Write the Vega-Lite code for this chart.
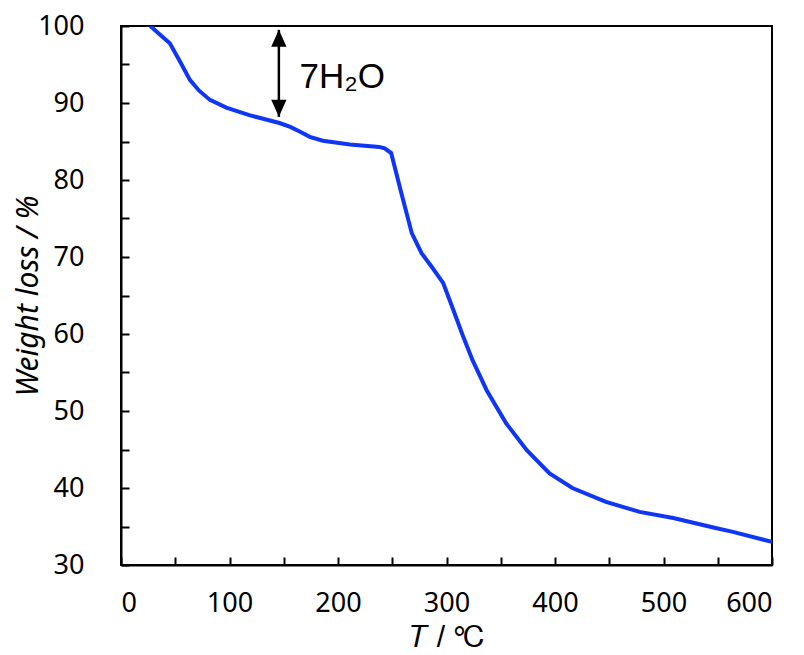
{
  "$schema": "https://vega.github.io/schema/vega-lite/v6.json",
  "width": 651,
  "height": 539,
  "autosize": {"type": "none"},
  "padding": {"left": 121, "top": 26, "right": 32, "bottom": 90},
  "background": "white",
  "config": {
    "view": {"stroke": "black", "strokeWidth": 2},
    "axis": {
      "domainColor": "black", "domainWidth": 2, "tickColor": "black", "tickWidth": 2,
      "grid": false, "labelFont": "Noto Sans", "labelFontSize": 27, "labelColor": "black",
      "titleFont": "Noto Sans", "titleFontSize": 30, "titleFontWeight": "normal", "titleColor": "black"
    }
  },
  "resolve": {"axis": {"x": "independent", "y": "independent"}},
  "datasets": {
    "tga": [
      {"T": 27, "w": 100}, {"T": 35, "w": 99.0}, {"T": 45, "w": 97.75}, {"T": 54, "w": 95.5},
      {"T": 63.5, "w": 93.0}, {"T": 72, "w": 91.6}, {"T": 82, "w": 90.4}, {"T": 97, "w": 89.4},
      {"T": 119, "w": 88.4}, {"T": 146, "w": 87.4}, {"T": 156, "w": 86.9}, {"T": 166, "w": 86.2},
      {"T": 174, "w": 85.6}, {"T": 186, "w": 85.1}, {"T": 211, "w": 84.6}, {"T": 238, "w": 84.3},
      {"T": 243, "w": 84.1}, {"T": 249, "w": 83.5}, {"T": 258, "w": 78.5}, {"T": 268, "w": 73.1},
      {"T": 277, "w": 70.5}, {"T": 287, "w": 68.6}, {"T": 297, "w": 66.6}, {"T": 304, "w": 64.0},
      {"T": 315, "w": 59.8}, {"T": 324, "w": 56.6}, {"T": 337, "w": 52.7}, {"T": 355, "w": 48.4},
      {"T": 374, "w": 44.9}, {"T": 395, "w": 41.9}, {"T": 416, "w": 40.0}, {"T": 447, "w": 38.2},
      {"T": 478, "w": 36.9}, {"T": 509, "w": 36.1}, {"T": 548, "w": 34.8}, {"T": 564, "w": 34.3},
      {"T": 600, "w": 33.0}
    ],
    "arrow": [{"T": 145.5, "top": 99.5, "bottom": 88.2}],
    "label": [{"T": 164.5, "w": 92.0, "text": "7H₂O"}]
  },
  "layer": [
    {
      "data": {"name": "tga"},
      "mark": {"type": "line", "color": "#0f35f5", "strokeWidth": 4, "clip": true},
      "encoding": {
        "x": {
          "field": "T", "type": "quantitative",
          "scale": {"domain": [0, 600], "nice": false},
          "axis": {
            "orient": "bottom",
            "values": [0, 100, 200, 300, 400, 500, 600],
            "ticks": false, "labelPadding": 25, "title": "𝑇 / ℃",
            "titleFont": "Liberation Sans", "titlePadding": 6
          }
        },
        "y": {
          "field": "w", "type": "quantitative",
          "scale": {"domain": [30, 100], "nice": false},
          "axis": {
            "orient": "left",
            "values": [30, 40, 50, 60, 70, 80, 90, 100],
            "ticks": false, "labelPadding": 37, "title": "Weight loss / %",
            "titleFontStyle": "italic", "titlePadding": -6
          }
        }
      }
    },
    {
      "data": {"name": "arrow"},
      "mark": {"type": "rule", "color": "black", "strokeWidth": 2.5},
      "encoding": {
        "x": {
          "field": "T", "type": "quantitative",
          "axis": {
            "orient": "bottom", "offset": -8, "domain": false, "labels": false, "title": null,
            "ticks": true, "tickSize": 8,
            "values": [0, 50, 100, 150, 200, 250, 300, 350, 400, 450, 500, 550, 600]
          }
        },
        "y": {
          "field": "top", "type": "quantitative",
          "axis": {
            "orient": "left", "offset": -8, "domain": false, "labels": false, "title": null,
            "ticks": true, "tickSize": 8,
            "values": [30, 35, 40, 45, 50, 55, 60, 65, 70, 75, 80, 85, 90, 95, 100]
          }
        },
        "y2": {"field": "bottom"}
      }
    },
    {
      "data": {"name": "arrow"},
      "mark": {"type": "point", "filled": true, "color": "black", "opacity": 1, "size": 1156, "shape": "M0,0L-0.45,1L0.45,1Z"},
      "encoding": {
        "x": {"field": "T", "type": "quantitative", "axis": null},
        "y": {"field": "top", "type": "quantitative", "axis": null}
      }
    },
    {
      "data": {"name": "arrow"},
      "mark": {"type": "point", "filled": true, "color": "black", "opacity": 1, "size": 1156, "shape": "M0,0L-0.45,-1L0.45,-1Z"},
      "encoding": {
        "x": {"field": "T", "type": "quantitative", "axis": null},
        "y": {"field": "bottom", "type": "quantitative", "axis": null}
      }
    },
    {
      "data": {"name": "label"},
      "mark": {"type": "text", "font": "Liberation Sans", "fontSize": 35, "align": "left", "baseline": "alphabetic", "color": "black"},
      "encoding": {
        "x": {"field": "T", "type": "quantitative", "axis": null},
        "y": {"field": "w", "type": "quantitative", "axis": null},
        "text": {"field": "text"}
      }
    }
  ]
}
